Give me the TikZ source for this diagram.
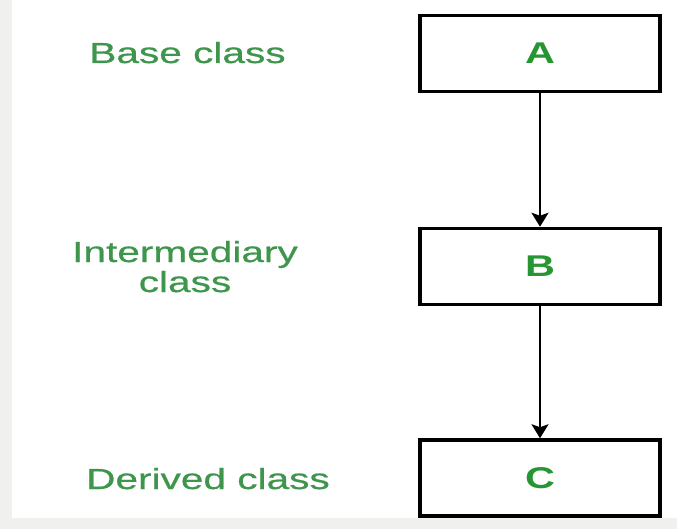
\documentclass[tikz,border=0pt]{standalone}
\usepackage{fontspec}
\usetikzlibrary{arrows.meta}
\newfontfamily\lblfont[FakeStretch=1.4,FakeBold=0.6]{Liberation Sans}
\newfontfamily\letterfont[FakeStretch=1.38]{Liberation Sans Bold}
\definecolor{labelgreen}{RGB}{62,150,76}
\definecolor{lettergreen}{RGB}{38,150,50}
\definecolor{edgegrey}{RGB}{240,240,238}
\begin{document}
\begin{tikzpicture}[x=1pt,y=-1pt,
  classbox/.style={draw=black,line width=3.5pt,fill=white,
    minimum width=240pt,minimum height=76pt,inner sep=0pt,
    font=\letterfont\fontsize{30}{33}\selectfont,text=lettergreen},
  rolelabel/.style={font=\lblfont\fontsize{29}{30}\selectfont,text=labelgreen,
    align=center,inner sep=0pt,anchor=base},
  inherit/.style={draw=black,line width=2pt,
    -{Stealth[length=14pt,width=17pt,inset=3pt]}}]
  % page background with a faint grey edge on the left and bottom
  \fill[edgegrey] (0,0) rectangle (677,529);
  \fill[white] (12,0) rectangle (677,518);
  \useasboundingbox (0,0) rectangle (677,529);

  % class boxes
  \node[classbox] (A) at (540,53.5) {A};
  \node[classbox] (B) at (540,266.5) {B};
  \node[classbox] (C) at (540,478) {C};

  % role labels (base anchor sits on the last line)
  \node[rolelabel] (baselbl) at (187.5,63) {Base class};
  \node[rolelabel] (midlbl) at (185,292) {Intermediary\\class};
  \node[rolelabel] (derivedlbl) at (208,489) {Derived class};

  % inheritance arrows
  \draw[inherit] (A.south) -- (B.north);
  \draw[inherit] (B.south) -- (C.north);
\end{tikzpicture}
\end{document}
